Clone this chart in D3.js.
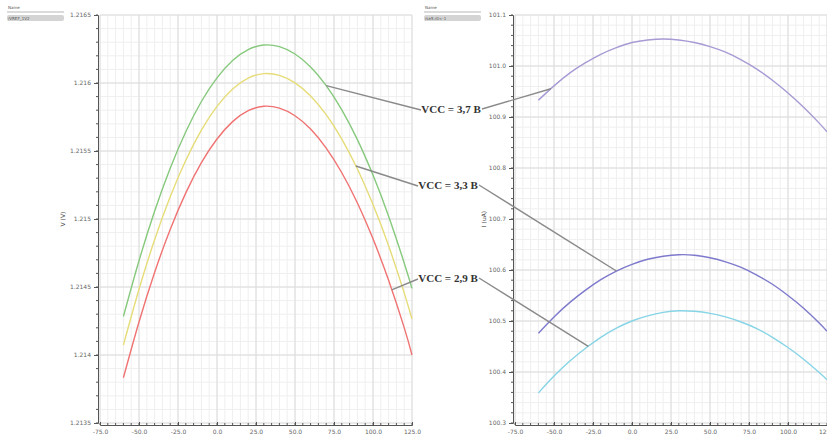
<!DOCTYPE html>
<html>
<head>
<meta charset="utf-8">
<script src="https://cdn.jsdelivr.net/npm/d3@7"></script>
<style>
  body { margin:0; background:#fff; }
  svg text { font-family: "DejaVu Sans", sans-serif; }
</style>
</head>
<body>
<svg id="chart" width="827" height="440"></svg>
<script>
// temperature sweep, deg C
const temps = [-60,-50,-40,-30,-20,-10,0,10,20,30,40,50,60,70,80,90,100,110,120,125]

// left panel: VREF_1V2 (V)
const vref37 = [1.214283,1.214693,1.215057,1.215373,1.215642,1.215864,1.216038,1.216166,1.216246,1.216279,
                1.216267,1.216213,1.216118,1.215981,1.215803,1.215584,1.215323,1.215021,1.214677,1.214490]
const vref33 = [1.214073,1.214483,1.214847,1.215163,1.215432,1.215654,1.215828,1.215956,1.216036,1.216069,
                1.216056,1.216001,1.215905,1.215767,1.215588,1.215368,1.215106,1.214803,1.214457,1.214265]
const vref29 = [1.213833,1.214243,1.214607,1.214923,1.215192,1.215414,1.215588,1.215716,1.215796,1.215829,
                1.215815,1.215759,1.215661,1.215521,1.215340,1.215118,1.214854,1.214549,1.214201,1.214000]

// right panel: current (uA)
const cur37 = [100.933,100.961,100.986,101.006,101.023,101.036,101.046,101.051,101.053,101.051,
               101.046,101.038,101.027,101.012,100.994,100.972,100.947,100.919,100.888,100.871]
const cur33 = [100.476,100.508,100.536,100.560,100.581,100.598,100.611,100.621,100.627,100.630,
               100.629,100.624,100.616,100.605,100.590,100.572,100.550,100.525,100.496,100.480]
const cur29 = [100.359,100.392,100.421,100.446,100.468,100.486,100.500,100.510,100.517,100.520,
               100.519,100.515,100.508,100.498,100.485,100.468,100.448,100.425,100.399,100.385]

const xTicks = [-75,-50,-25,0,25,50,75,100,125]
const leftYTicks = [1.2135,1.214,1.2145,1.215,1.2155,1.216,1.2165]
const rightYTicks = [100.3,100.4,100.5,100.6,100.7,100.8,100.9,101.0,101.1]

const labels = ["VCC = 3,7 B", "VCC = 3,3 B", "VCC = 2,9 B"]

const svg = d3.select('#chart')

function panel(opt) {
  const g = svg.append("g")
  const x = d3.scaleLinear().domain([-75,125]).range([opt.x0, opt.x0 + 312])
  const y = d3.scaleLinear().domain(opt.yDomain).range([423, 15])

  // grid, minor first then major
  const xMinor = d3.range(-75, 125.01, 5)
  const yMinor = d3.range(opt.yDomain[0], opt.yDomain[1] + opt.yMinorStep/2, opt.yMinorStep)
  g.append("g").selectAll("line").data(xMinor).join("line")
    .attr("x1", d => x(d)).attr("x2", d => x(d)).attr("y1", 15).attr("y2", 423)
    .attr("stroke", "#efefef").attr("stroke-width", 1)
  g.append("g").selectAll("line").data(yMinor).join("line")
    .attr("y1", d => y(d)).attr("y2", d => y(d)).attr("x1", opt.x0).attr("x2", opt.x0 + 312)
    .attr("stroke", "#efefef").attr("stroke-width", 1)
  g.append("g").selectAll("line").data(xTicks).join("line")
    .attr("x1", d => x(d)).attr("x2", d => x(d)).attr("y1", 15).attr("y2", 423)
    .attr("stroke", "#dcdcdc").attr("stroke-width", 1)
  g.append("g").selectAll("line").data(opt.yTicks).join("line")
    .attr("y1", d => y(d)).attr("y2", d => y(d)).attr("x1", opt.x0).attr("x2", opt.x0 + 312)
    .attr("stroke", "#dcdcdc").attr("stroke-width", 1)

  // axes
  const yAxis = g.append("g").attr("transform", `translate(${opt.x0 - 2},0)`)
    .call(d3.axisLeft(y).tickValues(opt.yTicks).tickFormat(opt.yFmt).tickSize(4).tickPadding(3))
  yAxis.append("g").selectAll("line").data(yMinor).join("line")
    .attr("x1", 0).attr("x2", -2).attr("y1", d => y(d)).attr("y2", d => y(d)).attr("stroke", "#555")
  const xAxis = g.append("g").attr("transform", `translate(0,425)`)
    .call(d3.axisBottom(x).tickValues(xTicks).tickFormat(d => d.toFixed(1)).tickSize(-3).tickPadding(5))
  xAxis.append("g").selectAll("line").data(xMinor).join("line")
    .attr("x1", d => x(d)).attr("x2", d => x(d)).attr("y1", 0).attr("y2", -2).attr("stroke", "#555")
  g.selectAll(".domain").attr("stroke", "#555")
  g.selectAll(".tick line").attr("stroke", "#555")
  g.selectAll(".tick text").attr("fill", "#666").style("font-size", "6px")

  g.append("text").attr("transform", `translate(${opt.yLabelX},219) rotate(-90)`)
    .attr("text-anchor", "middle").style("font-size", "6px").attr("fill", "#444").text(opt.yLabel)

  // name box
  const nb = g.append("g").attr("transform", `translate(${opt.nameX},0)`)
  nb.append("text").attr("x", 1).attr("y", 9).style("font-size", "4px").attr("fill", "#555").text("Name")
  nb.append("line").attr("x1", 0).attr("x2", 57).attr("y1", 12).attr("y2", 12).attr("stroke", "#888").attr("stroke-width", 0.6)
  nb.append("rect").attr("x", 0).attr("y", 15).attr("width", 57).attr("height", 6).attr("rx", 2).attr("fill", "#d4d4d4")
  nb.append("text").attr("x", 1).attr("y", 19.5).style("font-size", "4px").attr("fill", "#555").text(opt.name)

  // curves
  const line = d3.line().x((d, i) => x(temps[i])).y(d => y(d)).curve(d3.curveNatural)
  g.append("g").selectAll("path").data(opt.series).join("path")
    .attr("d", s => line(s.values)).attr("fill", "none")
    .attr("stroke", s => s.color).attr("stroke-width", 1.4)

  return { x, y }
}

const left = panel({
  x0: 100, yDomain: [1.2135, 1.2165], yTicks: leftYTicks, yMinorStep: 0.0001,
  yFmt: d => d3.format(".4~f")(d), yLabel: "V (V)", yLabelX: 65,
  nameX: 7, name: "/VREF_1V2",
  series: [
    { values: vref37, color: "#86c97c" },
    { values: vref33, color: "#e6dc78" },
    { values: vref29, color: "#f07272" }
  ]
})

const right = panel({
  x0: 515, yDomain: [100.3, 101.1], yTicks: rightYTicks, yMinorStep: 0.02,
  yFmt: d3.format(".1f"), yLabel: "I (uA)", yLabelX: 486,
  nameX: 424, name: "/se5.r0<-1",
  series: [
    { values: cur37, color: "#a89ad4" },
    { values: cur33, color: "#7d79cc" },
    { values: cur29, color: "#86d4e6" }
  ]
})

// annotations: each label is tied to a point on a left curve and a right curve
const notes = [
  { label: labels[0], tx: 451, ty: 113, l: [70, vref37], r: [-52, cur37] },
  { label: labels[1], tx: 448, ty: 189, l: [89, vref33], r: [-10, cur33] },
  { label: labels[2], tx: 448, ty: 282, l: [112, vref29], r: [-28, cur29] }
]
function valueAt(t, vals) {
  const i = d3.bisectLeft(temps, t)
  if (temps[i] === t) return vals[i]
  const a = i - 1, f = (t - temps[a]) / (temps[i] - temps[a])
  return vals[a] + f * (vals[i] - vals[a])
}
const ann = svg.append("g")
notes.forEach(n => {
  const lx = left.x(n.l[0]), ly = left.y(valueAt(n.l[0], n.l[1]))
  const rx = right.x(n.r[0]), ry = right.y(valueAt(n.r[0], n.r[1]))
  ann.append("line").attr("x1", lx).attr("y1", ly).attr("x2", n.tx - 30).attr("y2", n.ty - 3)
    .attr("stroke", "#8a8a8a").attr("stroke-width", 1.4)
  ann.append("line").attr("x1", n.tx + 31).attr("y1", n.ty - 4).attr("x2", rx).attr("y2", ry)
    .attr("stroke", "#8a8a8a").attr("stroke-width", 1.4)
  ann.append("text").attr("x", n.tx).attr("y", n.ty).attr("text-anchor", "middle")
    .style("font-family", "'Liberation Serif', serif").style("font-weight", "bold")
    .style("font-size", "11px").attr("fill", "#333").text(n.label)
})
</script>
</body>
</html>
